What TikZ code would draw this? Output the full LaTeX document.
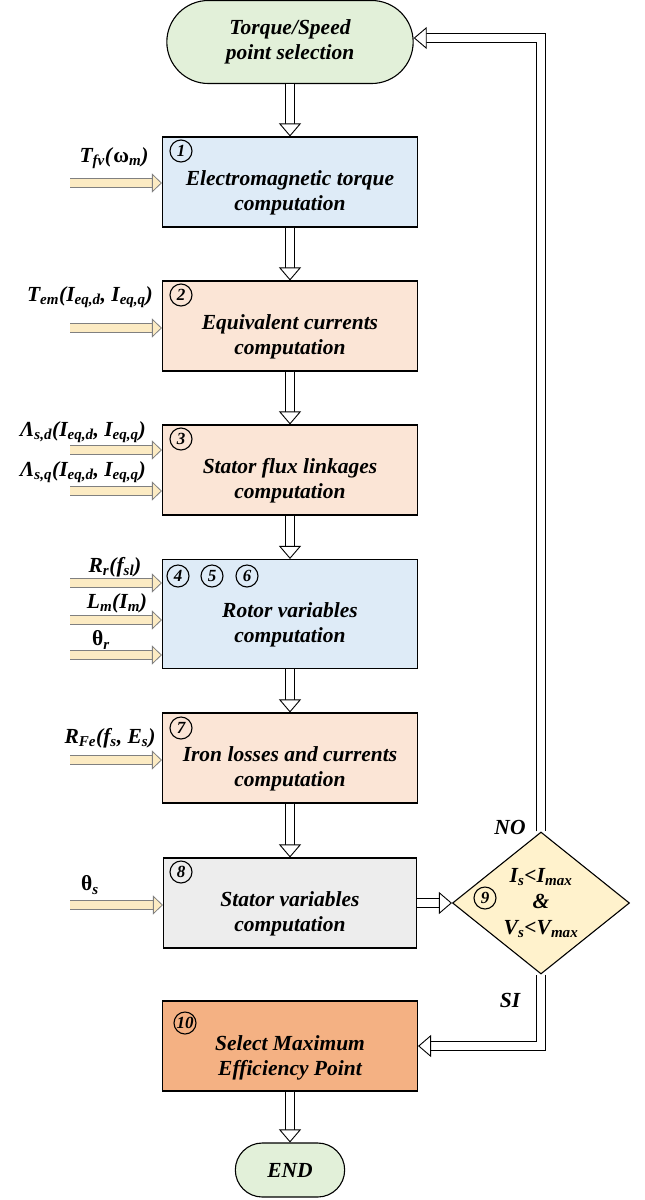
\documentclass[tikz,border=0pt]{standalone}
\usepackage{fontspec}
\setmainfont{Liberation Serif}
\usetikzlibrary{arrows.meta,shapes.geometric,shapes.misc}

\definecolor{greenbox}{HTML}{E2F0D9}
\definecolor{bluebox}{HTML}{DEEBF7}
\definecolor{peachbox}{HTML}{FBE5D6}
\definecolor{greybox}{HTML}{EDEDED}
\definecolor{orangebox}{HTML}{F4B183}
\definecolor{yellowbox}{HTML}{FFF2CC}
\definecolor{inputfill}{HTML}{FCEBC3}

\begin{document}
\begin{tikzpicture}[
                x=1pt, y=-1pt,% pixel-like coordinates, y going down
                every node/.style={font=\fontsize{21.5}{25}\selectfont\bfseries\itshape},
                procbox/.style={draw, line width=1.1pt, minimum width=255pt, minimum height=90pt},
                boxtext/.style={align=center, inner sep=0pt},
                pill/.style={draw, line width=1.1pt, rounded rectangle, fill=greenbox, align=center},
                numcirc/.style={circle, draw, line width=1.1pt, inner sep=0.5pt, minimum size=22pt,
                    font=\fontsize{17}{17}\selectfont\bfseries\itshape},
                flow/.style={draw, line width=0.9pt, double, double distance=8pt,
                    -{Triangle[open, fill=white, line width=0.9pt, width=22pt, length=13pt]}},
                inarrow/.style={draw=gray, line width=0.8pt, double=inputfill, double distance=8pt,
                    -{Triangle[fill=inputfill, line width=0.8pt, width=19pt, length=10pt]}},
                inlabel/.style={inner sep=0pt}
            ]

                \useasboundingbox (0,0) rectangle (645,1200);

                \node[pill, minimum width=253pt, minimum height=83pt] (start) at (290,42) {Torque/Speed\\point selection};

                % process boxes
                \node[procbox, fill=bluebox] (b1) at (290,182) {};
                \node[boxtext] (t1) at ([yshift=-11pt]b1.center) {Electromagnetic torque\\computation};
                \node[numcirc] (n1) at (181,151) {1};

                \node[procbox, fill=peachbox] (b2) at (290,326) {};
                \node[boxtext] (t2) at ([yshift=-11pt]b2.center) {Equivalent currents\\computation};
                \node[numcirc] (n2) at (181,295) {2};

                \node[procbox, fill=peachbox] (b3) at (290,470) {};
                \node[boxtext] (t3) at ([yshift=-11pt]b3.center) {Stator flux linkages\\computation};
                \node[numcirc] (n3) at (181,439) {3};

                \node[procbox, fill=bluebox, minimum height=109pt] (b4) at (290,614) {};
                \node[boxtext] (t4) at ([yshift=-11pt]b4.center) {Rotor variables\\computation};
                \node[numcirc] (n4) at (178,576) {4};
                \node[numcirc] (n5) at (212,576) {5};
                \node[numcirc] (n6) at (247,576) {6};

                \node[procbox, fill=peachbox] (b5) at (290,758) {};
                \node[boxtext] (t5) at ([yshift=-11pt]b5.center) {Iron losses and currents\\computation};
                \node[numcirc] (n7) at (181,728) {7};

                \node[procbox, fill=greybox, minimum width=253pt] (b6) at (290,903) {};
                \node[boxtext] (t6) at ([yshift=-11pt]b6.center) {Stator variables\\computation};
                \node[numcirc] (n8) at (181,872) {8};

                \node[diamond, draw, line width=1.1pt, fill=yellowbox, inner sep=0pt, aspect=1.25,
                      minimum width=177pt, minimum height=142pt, align=center] (dia) at (541,903)
                    {I\textsubscript{s}<I\textsubscript{max}\\[1pt]\&\\[1pt]V\textsubscript{s}<V\textsubscript{max}};
                \node[numcirc] (n9) at (485,898) {9};

                \node[procbox, fill=orangebox] (b10) at (290,1046) {};
                \node[boxtext] (t10) at ([yshift=-12pt]b10.center) {Select Maximum\\Efficiency Point};
                \node[numcirc] (n10) at (185,1023) {10};

                \node[pill, minimum width=116pt, minimum height=54pt] (end) at (290,1170) {END};

                % main flow
                \draw[flow] (start.south) -- (b1.north);
                \draw[flow] (b1.south) -- (b2.north);
                \draw[flow] (b2.south) -- (b3.north);
                \draw[flow] (b3.south) -- (b4.north);
                \draw[flow] (b4.south) -- (b5.north);
                \draw[flow] (b5.south) -- (b6.north);
                \draw[flow] (b6.east) -- (dia.west);
                \draw[flow] (dia.north) |- ([yshift=4pt]start.east);
                \draw[flow] (dia.south) |- (b10.east);
                \draw[flow] (b10.south) -- (end.north);

                \node (no) at (510,827) {NO};
                \node (si) at (510,1000) {SI};

                % inputs
                \coordinate (i1) at (70,183);
                \coordinate (i2) at (70,328);
                \coordinate (i3a) at (70,450);
                \coordinate (i3b) at (70,491);
                \coordinate (i4a) at (70,583);
                \coordinate (i4b) at (70,620);
                \coordinate (i4c) at (70,655);
                \coordinate (i5) at (70,760);
                \coordinate (i6) at (70,905);

                \draw[inarrow] (i1) -- (i1 -| b1.west);
                \draw[inarrow] (i2) -- (i2 -| b2.west);
                \draw[inarrow] (i3a) -- (i3a -| b3.west);
                \draw[inarrow] (i3b) -- (i3b -| b3.west);
                \draw[inarrow] (i4a) -- (i4a -| b4.west);
                \draw[inarrow] (i4b) -- (i4b -| b4.west);
                \draw[inarrow] (i4c) -- (i4c -| b4.west);
                \draw[inarrow] (i5) -- (i5 -| b5.west);
                \draw[inarrow] (i6) -- (i6 -| b6.west);

                \node[inlabel] (l1) at (114,158) {T\textsubscript{fv}(\textup{ω}\textsubscript{m})};
                \node[inlabel] (l2) at (90,297) {T\textsubscript{em}(I\textsubscript{eq,d}, I\textsubscript{eq,q})};
                \node[inlabel] (l3a) at (83,432) {Λ\textsubscript{s,d}(I\textsubscript{eq,d}, I\textsubscript{eq,q})};
                \node[inlabel] (l3b) at (83,472) {Λ\textsubscript{s,q}(I\textsubscript{eq,d}, I\textsubscript{eq,q})};
                \node[inlabel] (l4a) at (115,567) {R\textsubscript{r}(f\textsubscript{sl})};
                \node[inlabel] (l4b) at (117,603) {L\textsubscript{m}(I\textsubscript{m})};
                \node[inlabel] (l4c) at (101,640) {\textup{θ}\textsubscript{r}};
                \node[inlabel] (l5) at (110,738) {R\textsubscript{Fe}(f\textsubscript{s}, E\textsubscript{s})};
                \node[inlabel] (l6) at (90,885) {\textup{θ}\textsubscript{s}};

            \end{tikzpicture}
\end{document}
